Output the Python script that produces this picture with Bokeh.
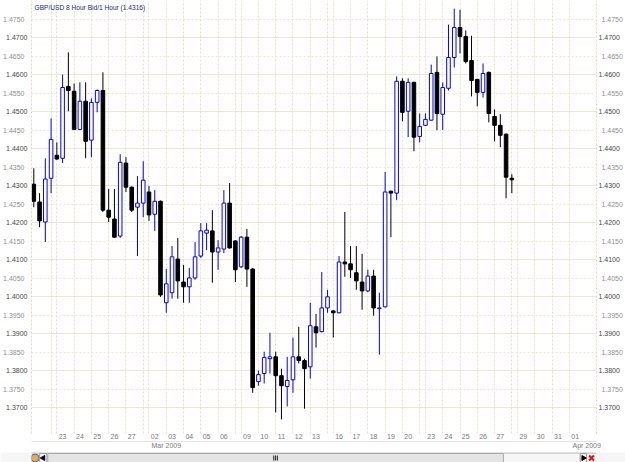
import numpy as np
from bokeh.plotting import figure
from bokeh.models import (Range1d, LinearAxis, FixedTicker, ColumnDataSource,
                          PrintfTickFormatter)
from bokeh.layouts import column
from bokeh.embed import file_html
from bokeh.resources import INLINE
from bokeh.core.properties import value

FONT = "Liberation Sans"

chart_title = "GBP/USD 8 Hour Bid/1 Hour (1.4316)"

opens = [1.4304, 1.4256, 1.4202, 1.4320, 1.4382, 1.4374, 1.4568, 1.4555, 1.4452, 1.4528,
         1.4423, 1.4525, 1.4557, 1.4234, 1.4210, 1.4164, 1.4361, 1.4296, 1.4242, 1.4253,
         1.4283, 1.4223, 1.4258, 1.3984, 1.4011, 1.4102, 1.4040, 1.4027, 1.4051, 1.4110,
         1.4172, 1.4178, 1.4121, 1.4129, 1.4253, 1.4151, 1.4081, 1.4161, 1.4075, 1.3771,
         1.3793, 1.3833, 1.3838, 1.3787, 1.3758, 1.3776, 1.3838, 1.3828, 1.3811, 1.3919,
         1.3906, 1.3970, 1.3962, 1.3957, 1.4094, 1.4089, 1.4065, 1.4040, 1.4016, 1.4056,
         1.3968, 1.3973, 1.4285, 1.4280, 1.4582, 1.4501, 1.4579, 1.4433, 1.4463, 1.4477,
         1.4606, 1.4493, 1.4563, 1.4646, 1.4727, 1.4703, 1.4638, 1.4587, 1.4552, 1.4606,
         1.4487, 1.4463, 1.4439, 1.4320]
highs = [1.4347, 1.4280, 1.4374, 1.4482, 1.4417, 1.4600, 1.4660, 1.4576, 1.4579, 1.4579,
         1.4536, 1.4560, 1.4606, 1.4291, 1.4291, 1.4385, 1.4377, 1.4298, 1.4326, 1.4366,
         1.4299, 1.4288, 1.4260, 1.4075, 1.4137, 1.4159, 1.4086, 1.4078, 1.4148, 1.4199,
         1.4199, 1.4234, 1.4153, 1.4288, 1.4307, 1.4153, 1.4164, 1.4183, 1.4078, 1.3801,
         1.3852, 1.3903, 1.3852, 1.3806, 1.3838, 1.3890, 1.3919, 1.3833, 1.3984, 1.3954,
         1.4067, 1.4019, 1.3964, 1.4110, 1.4229, 1.4137, 1.4137, 1.4116, 1.4073, 1.4073,
         1.4011, 1.4337, 1.4287, 1.4595, 1.4590, 1.4590, 1.4581, 1.4495, 1.4495, 1.4627,
         1.4649, 1.4579, 1.4735, 1.4778, 1.4775, 1.4719, 1.4705, 1.4589, 1.4630, 1.4608,
         1.4506, 1.4493, 1.4441, 1.4331]
lows = [1.4242, 1.4188, 1.4148, 1.4280, 1.4370, 1.4361, 1.4501, 1.4450, 1.4450, 1.4374,
        1.4377, 1.4498, 1.4229, 1.4202, 1.4159, 1.4159, 1.4283, 1.4229, 1.4110, 1.4215,
        1.4205, 1.4178, 1.4000, 1.3957, 1.3995, 1.3995, 1.3984, 1.3984, 1.4046, 1.4105,
        1.4126, 1.4038, 1.4073, 1.4118, 1.4130, 1.4040, 1.4078, 1.4027, 1.3741, 1.3760,
        1.3766, 1.3793, 1.3688, 1.3669, 1.3704, 1.3741, 1.3820, 1.3698, 1.3779, 1.3863,
        1.3904, 1.3957, 1.3890, 1.3955, 1.4054, 1.4051, 1.4019, 1.3965, 1.4013, 1.3949,
        1.3844, 1.3971, 1.4161, 1.4261, 1.4474, 1.4431, 1.4393, 1.4417, 1.4461, 1.4475,
        1.4450, 1.4450, 1.4557, 1.4619, 1.4657, 1.4630, 1.4541, 1.4514, 1.4538, 1.4471,
        1.4420, 1.4404, 1.4266, 1.4280]
closes = [1.4258, 1.4205, 1.4318, 1.4425, 1.4372, 1.4565, 1.4557, 1.4452, 1.4528, 1.4420,
          1.4525, 1.4557, 1.4234, 1.4215, 1.4161, 1.4363, 1.4296, 1.4234, 1.4253, 1.4315,
          1.4221, 1.4258, 1.4005, 1.4035, 1.4108, 1.4043, 1.4027, 1.4051, 1.4108, 1.4178,
          1.4180, 1.4121, 1.4132, 1.4253, 1.4132, 1.4073, 1.4161, 1.4075, 1.3755, 1.3790,
          1.3836, 1.3838, 1.3787, 1.3760, 1.3774, 1.3838, 1.3828, 1.3806, 1.3922, 1.3903,
          1.3970, 1.4000, 1.3957, 1.4094, 1.4089, 1.4073, 1.4043, 1.4016, 1.4056, 1.3970,
          1.3970, 1.4283, 1.4280, 1.4582, 1.4498, 1.4579, 1.4431, 1.4460, 1.4479, 1.4603,
          1.4495, 1.4565, 1.4646, 1.4727, 1.4703, 1.4635, 1.4584, 1.4552, 1.4603, 1.4495,
          1.4463, 1.4436, 1.4323, 1.4316]

# x axis categories: one slot per 8-hour bar
day_labels = ["23", "24", "25", "26", "27", "02", "03", "04", "05", "06",
              "09", "10", "11", "12", "13", "16", "17", "18", "19", "20",
              "23", "24", "25", "26", "27", "29", "30", "31", "01"]
day_first_bar = [6, 9, 12, 15, 18, 22, 25, 28, 31, 34,
                 38, 41, 44, 47, 50, 54, 57, 60, 63, 66,
                 70, 73, 76, 79, 82, 86, 89, 92, 95]
sunday_bar = [5, 21, 37, 53, 69, 85]
month_labels = ["Mar 2009", "Apr 2009"]
month_first_bar = [22, 95]

price_major = [1.3700, 1.3800, 1.3900, 1.4000, 1.4100, 1.4200, 1.4300, 1.4400, 1.4500, 1.4600, 1.4700]
price_minor = [1.3750, 1.3850, 1.3950, 1.4050, 1.4150, 1.4250, 1.4350, 1.4450, 1.4550, 1.4650, 1.4750]

bars = list(range(1, len(opens) + 1))
day_lines = sorted([b - 1 for b in day_first_bar] + [b - 1 for b in sunday_bar])

UP = "#0000ff"
DOWN = "#000000"

up = [c >= o for o, c in zip(opens, closes)]
def pick(seq, flag):
    return [v for v, u in zip(seq, up) if u == flag]

def src(flag):
    return ColumnDataSource(dict(
        x=pick(bars, flag),
        top=[max(o, c) for o, c in zip(pick(opens, flag), pick(closes, flag))],
        bottom=[min(o, c) for o, c in zip(pick(opens, flag), pick(closes, flag))],
        high=pick(highs, flag), low=pick(lows, flag)))

src_up, src_dn = src(True), src(False)

p = figure(width=625, height=451, x_range=Range1d(0.6, 98.7), y_range=Range1d(1.3631, 1.4800),
           toolbar_location=None, output_backend="svg", y_axis_location=None,
           min_border_left=30, min_border_right=29, min_border_top=0, min_border_bottom=17)
p.outline_line_color = None
p.background_fill_color = "white"
p.border_fill_color = "white"

# grids
p.xgrid.ticker = FixedTicker(ticks=day_lines)
p.xgrid.grid_line_color = "#e6dfc6"
p.xgrid.grid_line_dash = "2 2"
p.ygrid.ticker = FixedTicker(ticks=price_major, minor_ticks=price_minor)
p.ygrid.grid_line_color = "#dbd1a8"
p.ygrid.grid_line_dash = "1 1"
p.ygrid.minor_grid_line_color = "#ede7d2"
p.ygrid.minor_grid_line_dash = "2 2"

# candles
p.segment(x0="x", y0="low", x1="x", y1="high", source=src_up, line_color=UP, line_width=1)
p.segment(x0="x", y0="low", x1="x", y1="high", source=src_dn, line_color=DOWN, line_width=1)
p.vbar(x="x", width=0.62, top="top", bottom="bottom", source=src_up,
       fill_color="white", line_color=UP, line_width=1)
p.vbar(x="x", width=0.62, top="top", bottom="bottom", source=src_dn,
       fill_color=DOWN, line_color=DOWN, line_width=1)

# title inside the chart
p.text(x=[p.x_range.start], y=[p.y_range.end], text=[chart_title], x_offset=3, y_offset=3,
       text_baseline="top", text_align="left", text_font=value(FONT),
       text_font_size=value("6.6px"), text_color="#1c1c8e")

# y axes: inner axis = whole-cent labels (darker), outer axis pulled back over it = half-cent labels
fmt = PrintfTickFormatter(format="%.4f")
def make_y(ticks, color, standoff, with_line):
    ax = LinearAxis(ticker=FixedTicker(ticks=ticks), formatter=fmt)
    if with_line:
        ax.axis_line_color = "#e0d8b8"
        ax.axis_line_dash = "2 2"
    else:
        ax.axis_line_color = None
    ax.major_tick_line_color = None
    ax.minor_tick_line_color = None
    ax.major_tick_out = 0
    ax.major_tick_in = 0
    ax.minor_tick_out = 0
    ax.major_label_standoff = standoff
    ax.major_label_text_font = FONT
    ax.major_label_text_font_size = "7px"
    ax.major_label_text_color = color
    return ax

MAJ_COL, MIN_COL = "#474747", "#8f8f8f"
p.add_layout(make_y(price_major, MAJ_COL, 4, True), "left")
p.add_layout(make_y(price_minor, MIN_COL, -21, False), "left")
p.add_layout(make_y(price_major, MAJ_COL, 2, True), "right")
p.add_layout(make_y(price_minor, MIN_COL, -21, False), "right")

# x axes: day labels and month labels
def style_x(ax, ticks, labels, line_color=None):
    ax.ticker = FixedTicker(ticks=ticks)
    ax.major_label_overrides = {t: l for t, l in zip(ticks, labels)}
    ax.axis_line_color = line_color
    ax.major_tick_line_color = None
    ax.minor_tick_line_color = None
    ax.major_tick_out = 0
    ax.major_tick_in = 0
    ax.major_label_standoff = 0
    ax.major_label_text_font = FONT
    ax.major_label_text_font_size = "7px"
    ax.major_label_text_color = "#7a7a7a"

style_x(p.xaxis[0], day_first_bar, day_labels)
month_ax = LinearAxis()
style_x(month_ax, [b + 2 for b in month_first_bar], month_labels, "#e4e4e4")
p.add_layout(month_ax, "below")

# scrollbar strip
sb = figure(width=625, height=11, x_range=Range1d(0, 625), y_range=Range1d(0, 11),
            toolbar_location=None, output_backend="svg", min_border=0)
sb.axis.visible = False
sb.grid.visible = False
sb.outline_line_color = None
sb.background_fill_color = "#f6f6f6"
sb.border_fill_color = "#f6f6f6"
sb.quad(left=[0], right=[625], bottom=[10], top=[11], color="#d4d4d4")
sb.scatter(x=[4], y=[5.5], marker="circle", size=8, fill_color="#f2a93b", line_color="#2f6fd0")
sb.quad(left=[9], right=[17], bottom=[1], top=[10], fill_color="#f3f3f3", line_color="#9c9c9c")
sb.scatter(x=[13], y=[5.5], marker="triangle", angle=np.pi / 2, size=5, color="black")
sb.quad(left=[18], right=[522], bottom=[1], top=[10], fill_color="#e4e4e4", line_color="#a8a8a8")
sb.segment(x0=[268, 270, 272], y0=[3, 3, 3], x1=[268, 270, 272], y1=[8, 8, 8], line_color="#222222")
sb.quad(left=[607], right=[614], bottom=[1], top=[10], fill_color="#f3f3f3", line_color="#9c9c9c")
sb.scatter(x=[610.5], y=[5.5], marker="triangle", angle=-np.pi / 2, size=5, color="black")
sb.scatter(x=[619.5], y=[5.5], marker="x", size=7, line_color="#e01010", line_width=2)

layout = column(p, sb, spacing=0)
open("out.html", "w").write(file_html(layout, INLINE))
